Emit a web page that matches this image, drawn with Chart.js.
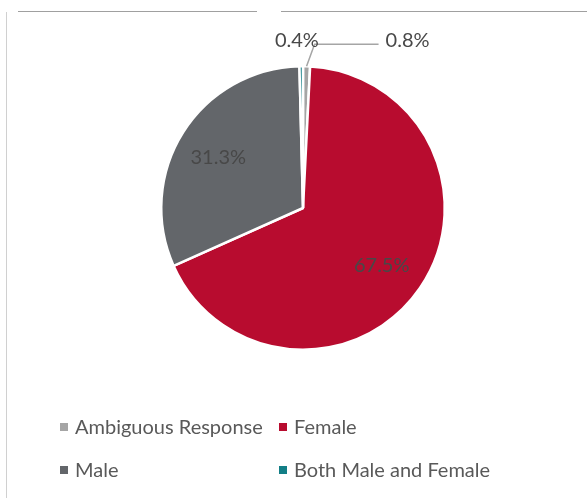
<!DOCTYPE html>
<html>
<head>
<meta charset="utf-8">
<script src="https://cdn.jsdelivr.net/npm/chart.js@4.4.1/dist/chart.umd.min.js"></script>
<style>
  body { margin: 0; background: #fff; font-family: Lato, "Open Sans", sans-serif; }
  #wrap { position: relative; width: 587px; height: 498px; overflow: hidden; }
  #frameTop1 { position: absolute; left: 18px; top: 11px; width: 239px; border-top: 1px solid #a0a0a0; }
  #frameTop2 { position: absolute; left: 281px; top: 11px; width: 306px; border-top: 1px solid #a0a0a0; }
  #frameLeft { position: absolute; left: 6px; top: 12px; height: 486px; border-left: 1px solid #d0d0d0; }
  #legend { position: absolute; left: 60px; top: 414px; width: 520px; }
  .item { position: absolute; font-size: 20px; color: #595959; white-space: nowrap; }
  .item span.box { display: inline-block; width: 8px; height: 8px; margin-right: 7px; vertical-align: 3px; }
</style>
</head>
<body>
<div id="wrap">
  <canvas id="pie" width="587" height="498"></canvas>
  <div id="frameTop1"></div>
  <div id="frameTop2"></div>
  <div id="frameLeft"></div>
  <div id="legend"></div>
</div>
<script>
const categorias = ["Ambiguous Response", "Female", "Male", "Both Male and Female"];
const valores = [0.8, 67.5, 31.3, 0.4];
const cores = ["#a5a5a5", "#b80c2f", "#63666a", "#127e86"];

// rotulos das fatias
const rotulos = {
  id: "rotulos",
  afterDatasetsDraw(chart) {
    const ctx = chart.ctx;
    const arcs = chart.getDatasetMeta(0).data;
    ctx.save();
    ctx.font = "20px Lato";
    ctx.fillStyle = "#484848";
    ctx.textAlign = "center";
    ctx.textBaseline = "middle";
    arcs.forEach((arc, i) => {
      const texto = valores[i].toFixed(1) + "%";
      const meio = (arc.startAngle + arc.endAngle) / 2;
      const r = arc.outerRadius;
      if (valores[i] > 5) {
        const d = r * 0.69;
        ctx.fillText(texto, arc.x + Math.cos(meio) * d - 2, arc.y + Math.sin(meio) * d + 2);
      } else if (i === 0) {
        // rotulo com linha de chamada
        const x0 = arc.x + Math.cos(meio) * r;
        const y0 = arc.y + Math.sin(meio) * r;
        ctx.strokeStyle = "#a5a5a5";
        ctx.lineWidth = 1.5;
        ctx.beginPath();
        ctx.moveTo(x0, y0);
        ctx.lineTo(x0 + 8, y0 - 22);
        ctx.lineTo(x0 + 72, y0 - 22);
        ctx.stroke();
        ctx.fillText(texto, x0 + 101, y0 - 26);
      } else {
        const d = r + 26;
        ctx.fillText(texto, arc.x + Math.cos(meio) * d - 4, arc.y + Math.sin(meio) * d);
      }
    });
    ctx.restore();
  }
};

const ctx = document.getElementById("pie");
const grafico = new Chart(ctx, {
  type: "pie",
  data: {
    labels: categorias,
    datasets: [{
      data: valores,
      backgroundColor: cores,
      borderColor: "#ffffff",
      borderWidth: 2.5,
      hoverOffset: 0
    }]
  },
  options: {
    responsive: false,
    animation: false,
    rotation: 0,
    layout: { padding: { left: 160, top: 65, right: 141, bottom: 147 } },
    plugins: {
      legend: { display: false },
      tooltip: { enabled: false }
    }
  },
  plugins: [rotulos]
});

// legenda em grade 2x2
const legenda = document.getElementById("legend");
const posLeg = [[0, 0], [219, 0], [0, 43], [219, 43]];
categorias.forEach((nome, i) => {
  const el = document.createElement("div");
  el.className = "item";
  el.style.left = posLeg[i][0] + "px";
  el.style.top = posLeg[i][1] + "px";
  el.innerHTML = '<span class="box" style="background:' + cores[i] + '"></span>' + nome;
  legenda.appendChild(el);
});
</script>
</body>
</html>
